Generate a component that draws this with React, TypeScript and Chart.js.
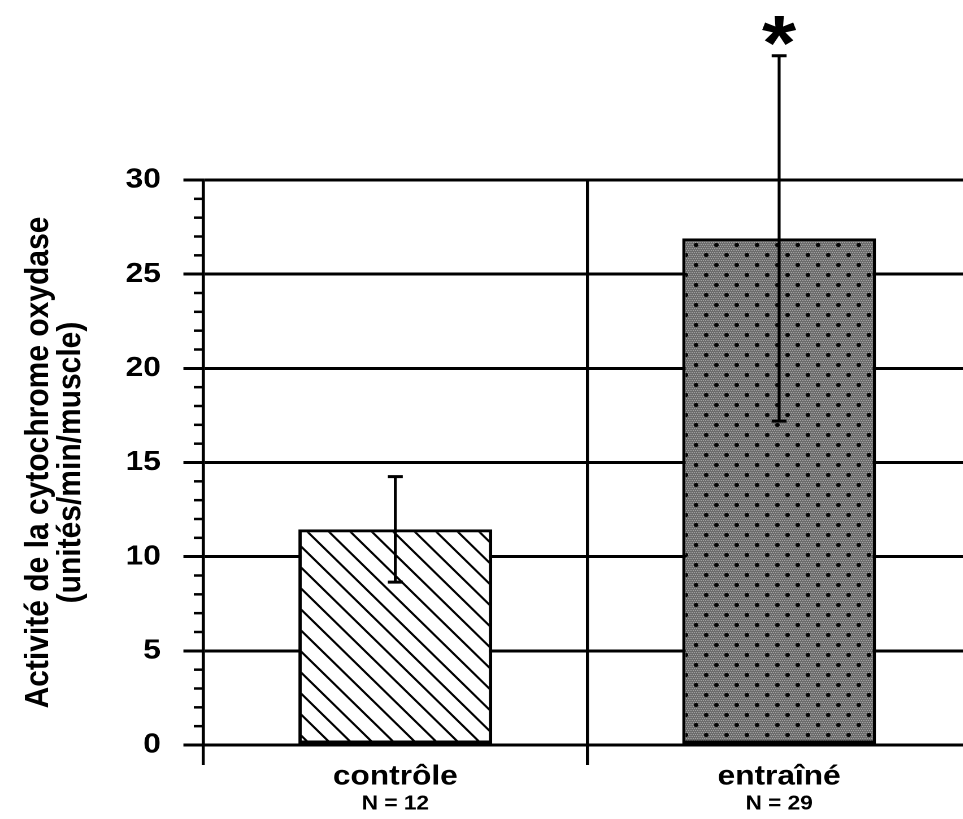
import React, { useEffect, useRef } from 'react';
import { Chart, registerables } from 'chart.js';
Chart.register(...registerables);

// ---- data ----
const categories = ['contrôle', 'entraîné'];
const sampleSizes = ['N = 12', 'N = 29'];
const means = [11.45, 26.9];
const errors = [2.8, 9.7];
const significance = ['', '*'];
const yMin = 0;
const yMax = 30;
const yMajorStep = 5;
const yMinorStep = 1;
const yTitle = ['Activité de la cytochrome oxydase', '(unités/min/muscle)'];

// ---- layout / style ----
const SX = 1.13;
const CW = 870;
const CH = 819;
const FONT = "'Liberation Sans', Arial, Helvetica, sans-serif";

function hatchPattern(ctx: CanvasRenderingContext2D) {
  const c = document.createElement('canvas');
  const w = 38, h = 42;
  c.width = w; c.height = h;
  const t = c.getContext('2d')!;
  t.fillStyle = '#fff';
  t.fillRect(0, 0, w, h);
  t.strokeStyle = '#000';
  t.lineWidth = 4;
  for (const x0 of [-w, 0, w]) {
    t.beginPath();
    t.moveTo(x0 - 2, -2 * h / w);
    t.lineTo(x0 + w + 2, h + 2 * h / w);
    t.stroke();
  }
  const p = ctx.createPattern(c, 'repeat')!;
  p.setTransform(new DOMMatrix().scale(0.5));
  return p;
}

function dotPattern(ctx: CanvasRenderingContext2D) {
  const c = document.createElement('canvas');
  const w = 36, h = 40;
  c.width = w; c.height = h;
  const t = c.getContext('2d')!;
  t.fillStyle = '#6c6c6c';
  t.fillRect(0, 0, w, h);
  t.fillStyle = '#a2a2a2';
  for (let x = 0; x < w; x += 4) {
    for (let y = 0; y < h; y += 4) {
      t.fillRect(x + ((y / 4) % 2) * 2, y, 2, 2);
    }
  }
  t.fillStyle = '#050505';
  for (const [dx, dy] of [[8, 10], [26, 30]]) {
    t.beginPath();
    t.arc(dx, dy, 4, 0, Math.PI * 2);
    t.fill();
  }
  const p = ctx.createPattern(c, 'repeat')!;
  p.setTransform(new DOMMatrix().scale(0.5));
  return p;
}

export default function App() {
  const ref = useRef<HTMLCanvasElement>(null);

  useEffect(() => {
    const canvas = ref.current!;
    const ctx = canvas.getContext('2d')!;
    const fills = [hatchPattern(ctx), dotPattern(ctx)];

    const minorTicks = {
      id: 'minorTicks',
      afterDraw(chart: any) {
        const { ctx, chartArea, scales } = chart;
        const y = scales.y;
        ctx.save();
        ctx.strokeStyle = '#000';
        ctx.lineWidth = 2.5;
        for (let v = yMin; v <= yMax; v += yMinorStep) {
          if (v % yMajorStep === 0) continue;
          const py = y.getPixelForValue(v);
          ctx.beginPath();
          ctx.moveTo(chartArea.left - 8.5, py);
          ctx.lineTo(chartArea.left, py);
          ctx.stroke();
        }
        ctx.restore();
      },
    };

    const errorBars = {
      id: 'errorBars',
      afterDatasetsDraw(chart: any) {
        const { ctx, scales } = chart;
        const y = scales.y;
        const meta = chart.getDatasetMeta(0);
        ctx.save();
        ctx.strokeStyle = '#000';
        ctx.fillStyle = '#000';
        meta.data.forEach((bar: any, i: number) => {
          const x = bar.x;
          const top = y.getPixelForValue(means[i] + errors[i]);
          const bot = y.getPixelForValue(means[i] - errors[i]);
          ctx.lineWidth = 2.6;
          ctx.beginPath();
          ctx.moveTo(x, top);
          ctx.lineTo(x, bot);
          ctx.stroke();
          ctx.lineWidth = 3;
          ctx.beginPath();
          ctx.moveTo(x - 6.6, top);
          ctx.lineTo(x + 6.6, top);
          ctx.moveTo(x - 6.6, bot);
          ctx.lineTo(x + 6.6, bot);
          ctx.stroke();
          if (significance[i]) {
            ctx.font = `bold 78px ${FONT}`;
            ctx.textAlign = 'center';
            ctx.textBaseline = 'alphabetic';
            ctx.fillText(significance[i], x, top + 14);
          }
        });
        ctx.restore();
      },
    };

    const chart = new Chart(canvas, {
      type: 'bar',
      data: {
        labels: categories,
        datasets: [
          {
            data: means,
            backgroundColor: fills as any,
            borderColor: '#000',
            borderWidth: 3,
            borderSkipped: false,
            barPercentage: 0.505,
            categoryPercentage: 1,
          },
        ],
      },
      options: {
        responsive: false,
        animation: false,
        devicePixelRatio: 2,
        layout: { padding: { top: 180, right: 10.7, bottom: 4, left: 0 } },
        plugins: { legend: { display: false }, tooltip: { enabled: false } },
        scales: {
          x: {
            type: 'category',
            position: 'bottom',
            weight: 0,
            offset: true,
            grid: {
              display: true,
              offset: true,
              color: '#000',
              lineWidth: 2.7,
              drawOnChartArea: true,
              drawTicks: true,
              tickLength: 20,
            },
            border: { display: true, color: '#000', width: 3 },
            ticks: {
              color: '#000',
              font: { family: FONT, size: 28, weight: 'bold', lineHeight: 0.85 },
              padding: 0,
              maxRotation: 0,
              autoSkip: false,
            },
            afterFit(s: any) {
              s.height = 46;
            },
          },
          x2: {
            type: 'category',
            position: 'bottom',
            weight: 1,
            offset: true,
            labels: categories,
            grid: { display: false, drawTicks: false },
            border: { display: false },
            ticks: {
              color: '#000',
              callback: (_v: any, i: number) => sampleSizes[i],
              font: { family: FONT, size: 20, weight: 'bold', lineHeight: 1 },
              padding: 3,
              maxRotation: 0,
              autoSkip: false,
            },
            afterFit(s: any) {
              s.height = 24;
            },
          },
          y: {
            min: yMin,
            max: yMax,
            position: 'left',
            ticks: {
              stepSize: yMajorStep,
              padding: 20,
              color: '#000',
              font: { family: FONT, size: 28, weight: 'bold' },
            },
            grid: { color: '#000', lineWidth: 3, tickLength: 17.7, drawTicks: true },
            border: { display: true, color: '#000', width: 2.7 },
            title: {
              display: true,
              text: yTitle,
              color: '#000',
              font: { family: FONT, size: 30, weight: 'bold', lineHeight: 0.95 },
              padding: { top: 20, bottom: 0 },
            },
            afterFit(s: any) {
              s.width = 180;
            },
          },
        },
      } as any,
      plugins: [minorTicks, errorBars],
    });
    return () => chart.destroy();
  }, []);

  return (
    <div
      style={{
        position: 'fixed',
        left: 0,
        top: 0,
        width: 963,
        height: 819,
        overflow: 'hidden',
        background: '#fff',
      }}
    >
      <div style={{ width: CW, height: CH, transform: `scaleX(${SX})`, transformOrigin: '0 0' }}>
        <canvas ref={ref} width={CW} height={CH} style={{ display: 'block' }} />
      </div>
    </div>
  );
}
